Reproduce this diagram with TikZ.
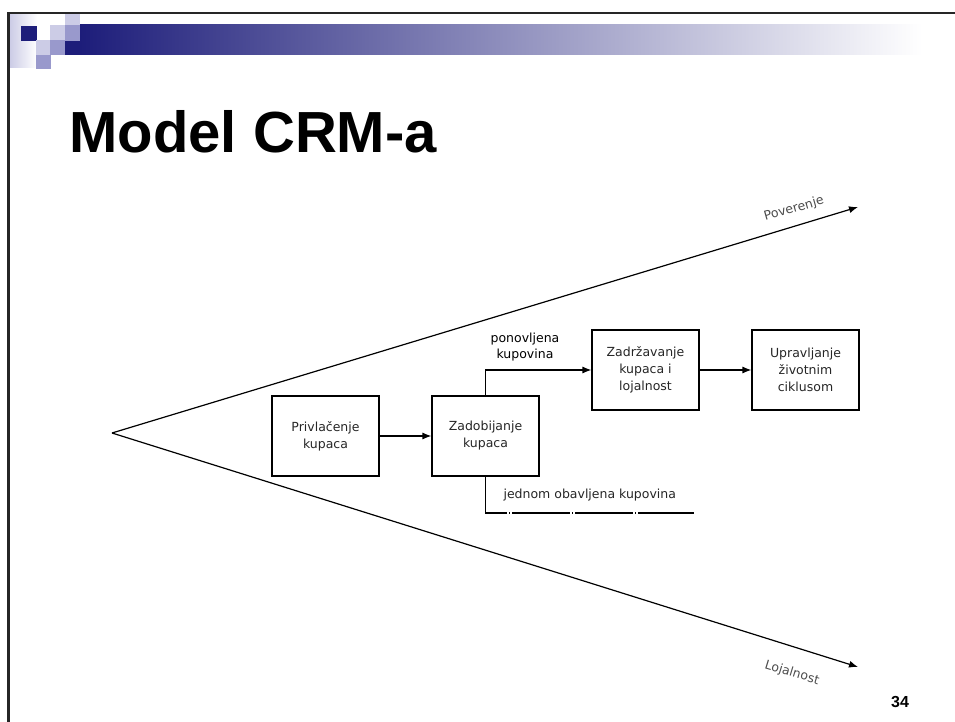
\documentclass[tikz,border=0pt]{standalone}
\usepackage{fontspec}
\setmainfont{Liberation Sans}
\newfontfamily\diagfont{DejaVu Sans}
\usetikzlibrary{arrows.meta}
\definecolor{navy}{RGB}{29,29,122}
\definecolor{lav}{RGB}{204,204,230}
\definecolor{midlav}{RGB}{153,153,204}
\begin{document}
\begin{tikzpicture}[x=1pt, y=-1pt, >={Latex[length=9pt,width=7pt]},
   box/.style={draw, line width=1.1pt, minimum width=107pt, minimum height=80pt,
      align=center, inner sep=2pt, font=\diagfont\fontsize{12.5}{17}\selectfont, text=black!85},
   flow/.style={line width=1.2pt},
   axislabel/.style={font=\diagfont\fontsize{12.5}{13}\selectfont, text=black!70}]
   \useasboundingbox (0,0) rectangle (955,722);

   % slide header
   \shade[left color=lav, right color=white] (10,14) rectangle (37,68);
   \shade[left color=navy, middle color={rgb,255:red,160;green,160;blue,185}, right color=white]
      (80,25) rectangle (922,55);
   \fill[navy] (65,41) rectangle (80,55);
   \fill[navy] (21,26) rectangle (37,41);
   \fill[lav] (50,25) rectangle (65,40);
   \fill[lav] (65,14) rectangle (80,25);
   \fill[midlav] (65,25) rectangle (80,41);
   \fill[lav] (36,40) rectangle (50,55);
   \fill[midlav] (50,40) rectangle (65,55);
   \fill[midlav] (36,55) rectangle (51,69);
   \draw[line width=2.2pt, black!85] (955,13) -- (8.5,13) -- (8.5,722);

   \node [anchor=base west, font=\fontsize{58}{58}\selectfont\bfseries] (title) at (66,153) {Model CRM-a};
   \node [font=\fontsize{16}{16}\selectfont\bfseries] (page) at (900,702) {34};

   % the funnel
   \coordinate (apex) at (112,433);
   \coordinate (top) at (858,207);
   \coordinate (bottom) at (858,667);
   \draw [->, flow] (apex) -- (top);
   \draw [->, flow] (apex) -- (bottom);
   \node [axislabel, rotate=16] (trust) at (794,209) {Poverenje};
   \node [axislabel, rotate=-17] (loyal) at (792,673) {Lojalnost};

   % the stages
   \node [box] (attract) at (325.5,436) {Privlačenje\\kupaca};
   \node [box] (gain) at (485.5,436) {Zadobijanje\\kupaca};
   \node [box] (keep) at (645.5,370) {Zadržavanje\\kupaca i\\lojalnost};
   \node [box] (manage) at (805.5,370) {Upravljanje\\životnim\\ciklusom};

   \draw [->, flow] (attract) -- (gain);
   \draw [->, flow] (gain.north) |- (keep.west);
   \draw [->, flow] (keep) -- (manage);
   \node [font=\diagfont\fontsize{12.5}{16}\selectfont, align=center, text=black] (again) at (525,347) {ponovljena\\kupovina};

   \coordinate (once) at (694,513);
   \draw [flow, dash pattern=on 58pt off 2pt on 1pt off 2pt] (gain.south) |- (once);
   \node [anchor=west, font=\diagfont\fontsize{12.5}{14}\selectfont, text=black!85] (onetime) at (500,495) {jednom obavljena kupovina};
\end{tikzpicture}
\end{document}
